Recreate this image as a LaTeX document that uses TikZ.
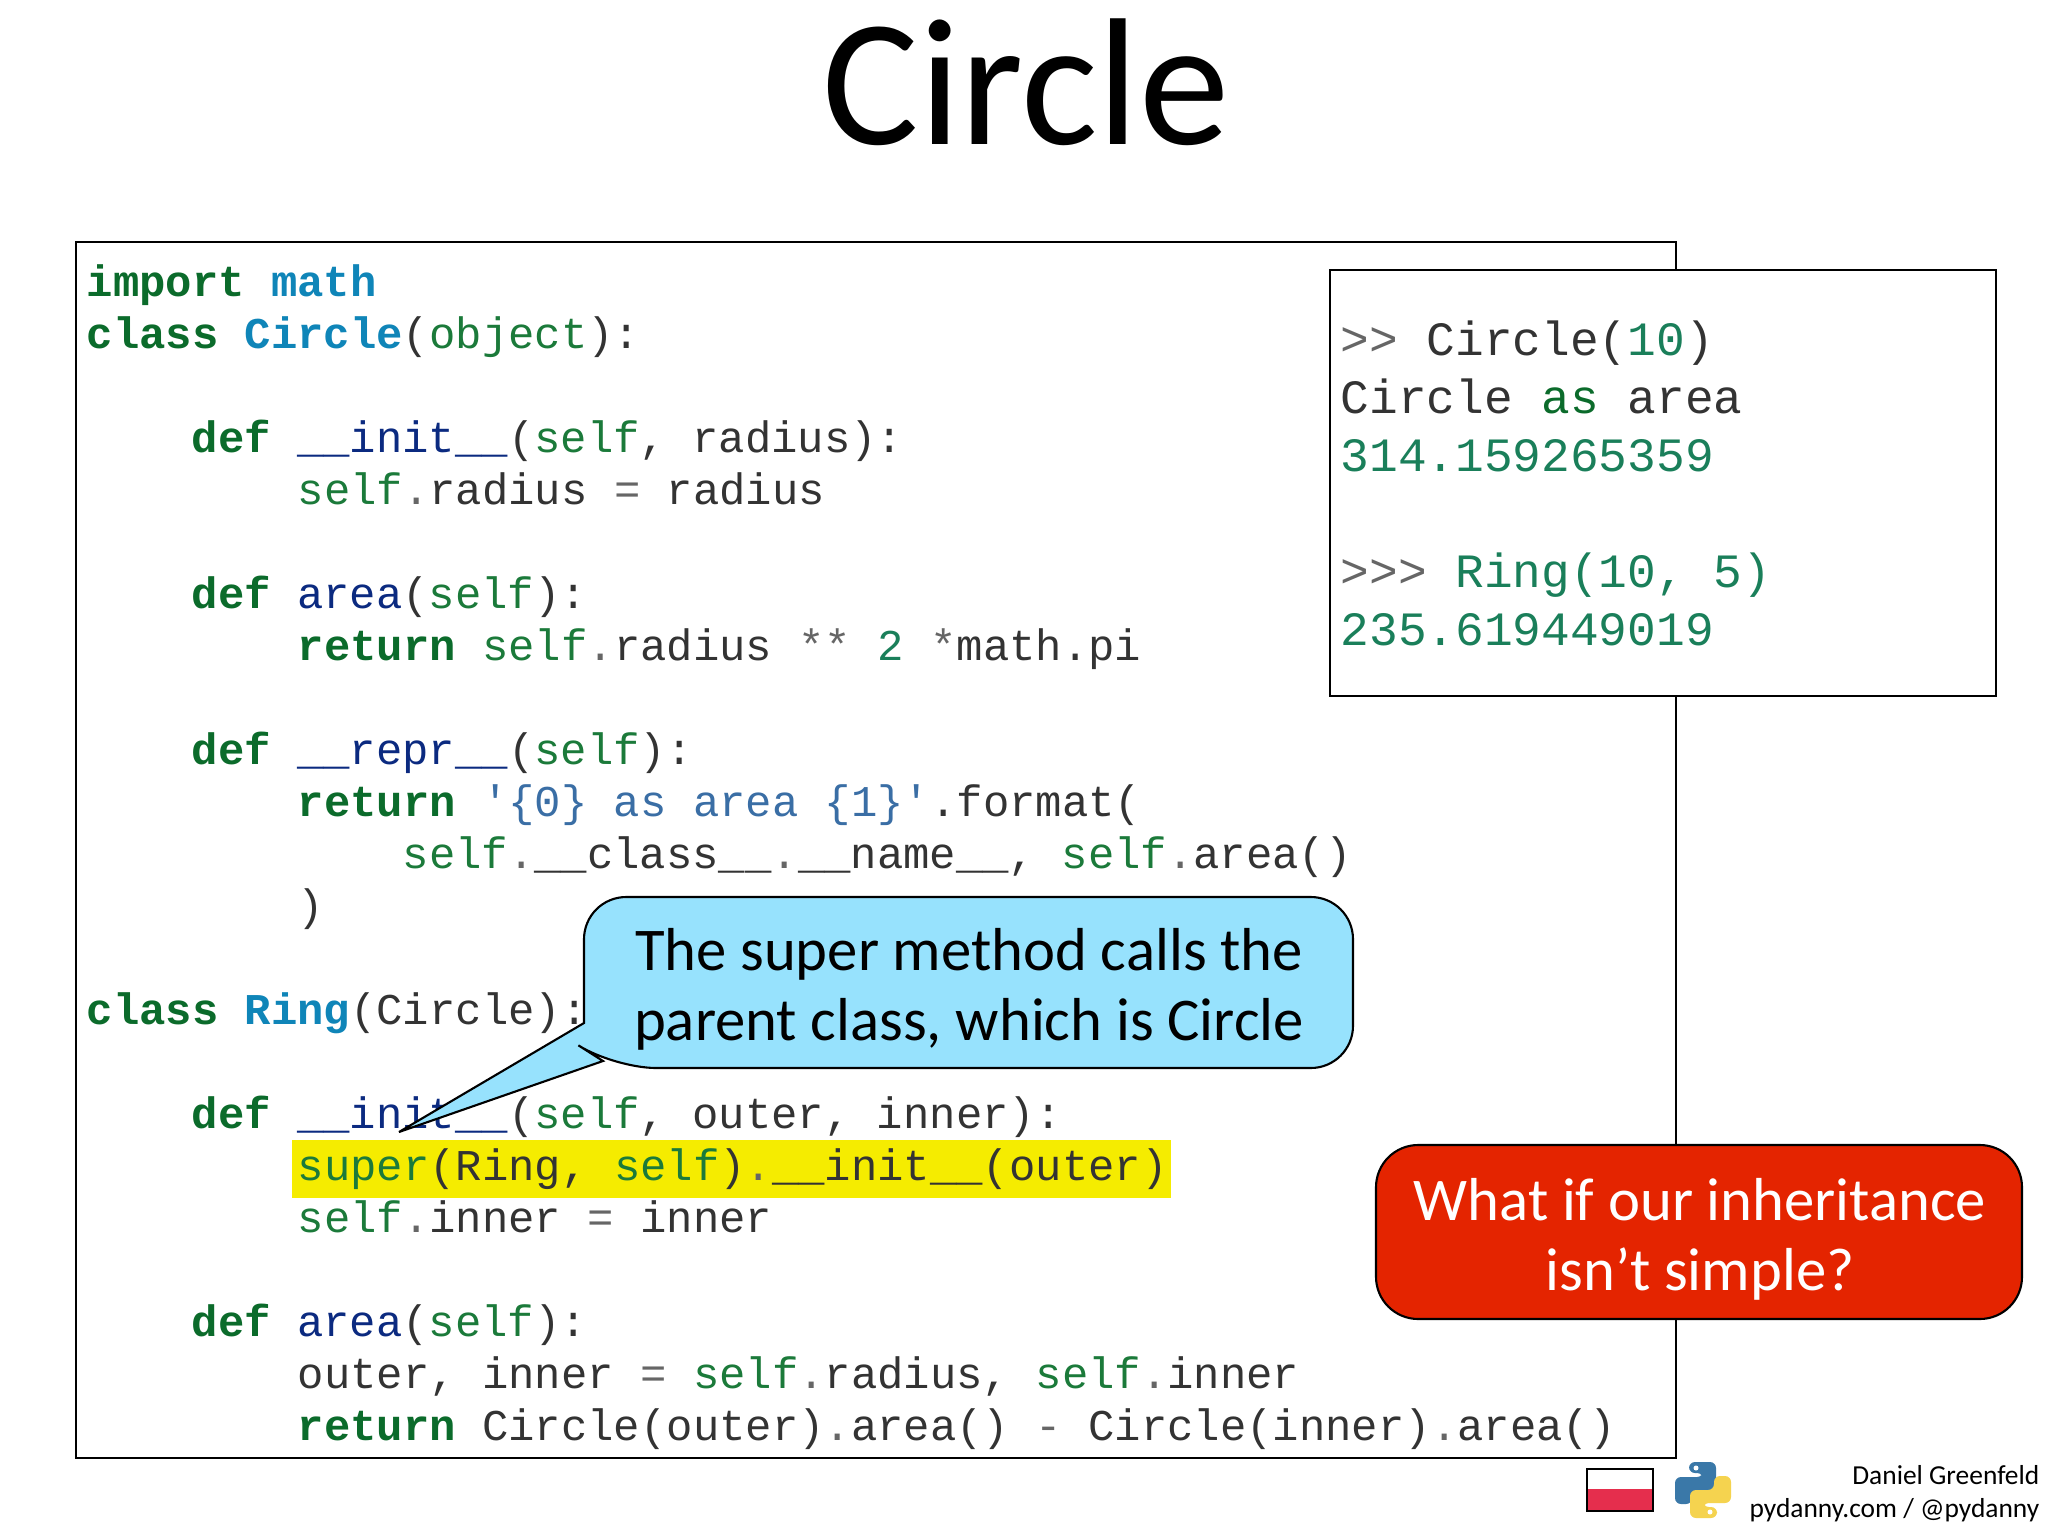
\documentclass[tikz,border=0pt]{standalone}
\usepackage{fontspec}
\setmainfont{Carlito}
\newfontfamily\codefont{Liberation Mono}
\usetikzlibrary{calc}

\definecolor{kwgreen}{HTML}{0B6B2B}
\definecolor{clsblue}{HTML}{0F85B8}
\definecolor{fnnavy}{HTML}{0B2A80}
\definecolor{selfgreen}{HTML}{1B7A3A}
\definecolor{codedark}{HTML}{333333}
\definecolor{opgrey}{HTML}{666666}
\definecolor{numgreen}{HTML}{1A7F5A}
\definecolor{strblue}{HTML}{3A6EA5}
\definecolor{calloutblue}{HTML}{97E2FD}
\definecolor{calloutred}{HTML}{E42400}
\definecolor{marker}{HTML}{F5EC00}
\definecolor{flagred}{HTML}{E52E4D}
\definecolor{pyblue}{HTML}{3A78A8}
\definecolor{pyyellow}{HTML}{F5D34F}

\newcommand{\codekw}[1]{\textcolor{kwgreen}{\textbf{#1}}}
\newcommand{\codecls}[1]{\textcolor{clsblue}{\textbf{#1}}}
\newcommand{\codefn}[1]{\textcolor{fnnavy}{#1}}
\newcommand{\codeself}[1]{\textcolor{selfgreen}{#1}}
\newcommand{\codeop}[1]{\textcolor{opgrey}{#1}}
\newcommand{\codenum}[1]{\textcolor{numgreen}{#1}}
\newcommand{\codestr}[1]{\textcolor{strblue}{#1}}

\tikzset{
    codeline/.style={anchor=base west, inner sep=0pt, text=codedark,
        font=\codefont\fontsize{12.49}{15}\selectfont},
    shellline/.style={anchor=base west, inner sep=0pt, text=codedark,
        font=\codefont\fontsize{13.6}{16}\selectfont},
    frame/.style={draw=black, line width=0.75pt},
    talk/.style={draw=black, line width=0.6pt, rounded corners=12pt},
    talktext/.style={inner sep=0pt, align=center, font=\fontsize{17.25}{20}\selectfont},
    footer/.style={anchor=base east, inner sep=0pt, font=\fontsize{7.8}{10}\selectfont}
}

\begin{document}
\begin{tikzpicture}[x=0.01cm, y=0.01cm]
    \useasboundingbox[fill=white] (0,0) rectangle (2048,-1536);

    \node[inner sep=0pt, anchor=base, font=\fontsize{51.5}{52}\selectfont] (title) at (1026,-144) {Circle};

    % listing
    \draw[frame] (76,-242) rectangle (1676,-1458);
    \fill[marker] (292,-1140) rectangle (1171,-1198);

    \node[codeline] (import) at (86,-296) {\codekw{import} \codecls{math}};
    \node[codeline] (circle) at (86,-348) {\codekw{class} \codecls{Circle}(\codeself{object}):};
    \node[codeline] (initA) at (191,-452) {\codekw{def} \codefn{\_\_init\_\_}(\codeself{self}, radius):};
    \node[codeline] (initB) at (297,-504) {\codeself{self}\codeop{.}radius \codeop{=} radius};
    \node[codeline] (areaA) at (191,-608) {\codekw{def} \codefn{area}(\codeself{self}):};
    \node[codeline] (areaB) at (297,-660) {\codekw{return} \codeself{self}\codeop{.}radius \codeop{**} \codenum{2} \codeop{*}math.pi};
    \node[codeline] (reprA) at (191,-764) {\codekw{def} \codefn{\_\_repr\_\_}(\codeself{self}):};
    \node[codeline] (reprB) at (297,-816) {\codekw{return} \codestr{'\{0\} as area \{1\}'}.format(};
    \node[codeline] (reprC) at (402,-868) {\codeself{self}\codeop{.}\_\_class\_\_\codeop{.}\_\_name\_\_, \codeself{self}\codeop{.}area()};
    \node[codeline] (reprD) at (297,-920) {)};
    \node[codeline] (ring) at (86,-1024) {\codekw{class} \codecls{Ring}(Circle):};
    \node[codeline] (ringA) at (191,-1128) {\codekw{def} \codefn{\_\_init\_\_}(\codeself{self}, outer, inner):};
    \node[codeline] (ringB) at (297,-1180) {\codeself{super}(Ring, \codeself{self})\codeop{.}\_\_init\_\_(outer)};
    \node[codeline] (ringC) at (297,-1232) {\codeself{self}\codeop{.}inner \codeop{=} inner};
    \node[codeline] (ringD) at (191,-1336) {\codekw{def} \codefn{area}(\codeself{self}):};
    \node[codeline] (ringE) at (297,-1388) {outer, inner \codeop{=} \codeself{self}\codeop{.}radius, \codeself{self}\codeop{.}inner};
    \node[codeline] (ringF) at (297,-1440) {\codekw{return} Circle(outer)\codeop{.}area() \codeop{-} Circle(inner)\codeop{.}area()};

    % shell output
    \draw[frame, fill=white] (1330,-270) rectangle (1996,-696);
    \node[shellline] (shellA) at (1340,-355) {\codeop{>>} Circle(\codenum{10})};
    \node[shellline] (shellB) at (1340,-413) {Circle \textcolor{kwgreen}{as} area};
    \node[shellline] (shellC) at (1340,-471) {\codenum{314.159265359}};
    \node[shellline] (shellD) at (1340,-587) {\codeop{>>>} \codenum{Ring(10, 5)}};
    \node[shellline] (shellE) at (1340,-645) {\codenum{235.619449019}};

    % blue callout with its tail
    \draw[talk, fill=calloutblue] (584,-1023) -- (584,-897) -- (1353,-897) -- (1353,-1068) -- (614,-1068)
        [sharp corners] -- (603,-1061) -- (399,-1132) -- cycle;
    \node[talktext] (super) at (969,-989) {The super method calls the\\parent class, which is Circle};

    % red box
    \draw[talk, fill=calloutred] (1376,-1145) rectangle (2022,-1319);
    \node[talktext, text=white] (question) at (1700,-1239) {What if our inheritance\\isn’t simple?};

    % flag
    \fill[flagred] (1587,-1489) rectangle (1653,-1511);
    \draw[black, line width=0.6pt] (1587,-1469) rectangle (1653,-1511);

    % python logo
    \fill[pyblue, rounded corners=1.7pt] (1675,-1477) -- (1703,-1477) -- (1703,-1473) -- (1689,-1473) -- (1689,-1462)
        -- (1716,-1462) -- (1716,-1490) -- (1692,-1490) -- (1692,-1504) -- (1675,-1504) -- cycle;
    \fill[pyyellow, rounded corners=1.7pt] (1731,-1503) -- (1703,-1503) -- (1703,-1507) -- (1717,-1507) -- (1717,-1518)
        -- (1690,-1518) -- (1690,-1490) -- (1714,-1490) -- (1714,-1476) -- (1731,-1476) -- cycle;
    \fill[white] (1696,-1468) circle (2.5);
    \fill[white] (1710,-1512) circle (2.5);

    \node[footer] (author) at (2040,-1484) {Daniel Greenfeld};
    \node[footer] (site) at (2040,-1517) {pydanny.com / @pydanny};
\end{tikzpicture}
\end{document}
